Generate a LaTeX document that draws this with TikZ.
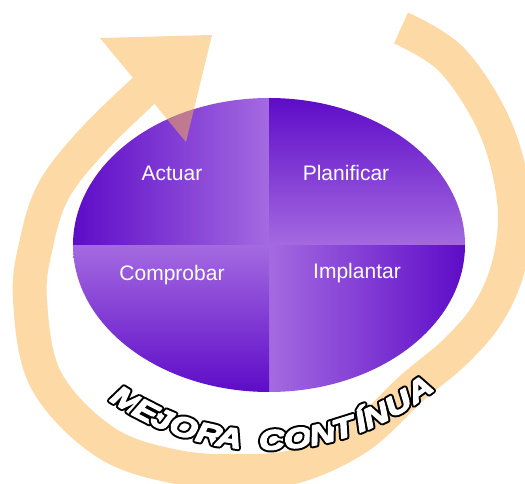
\documentclass[tikz,border=0pt]{standalone}
\usepackage{fontspec}
\setmainfont{Liberation Sans}
\newfontfamily\mejfont[FakeStretch=1.28]{Liberation Sans}
\usetikzlibrary{calc}
\definecolor{pdark}{RGB}{94,12,200}
\definecolor{plight}{RGB}{164,106,224}
\definecolor{peach}{RGB}{253,217,166}
\definecolor{peachT}{RGB}{251,179,77}
\newcommand\outlinedchar[1]{\rlap{\color{black}\special{pdf:literal direct 1 j 5.4 w 2 Tr}#1\special{pdf:literal direct 0 Tr}}\special{pdf:literal direct 1 G 1 j 1.4 w 2 Tr}#1\special{pdf:literal direct 0 Tr}}
\tikzset{
  qlabel/.style={text=white, font=\fontsize{21}{25}\selectfont, anchor=base, inner sep=0pt},
  lettr/.style={text=white, font=\mejfont\fontsize{28}{28}\selectfont\bfseries\itshape, inner sep=0pt, text height=0.72em, text depth=0pt},
  band/.style={draw=peach, line width=34pt},
  headtri/.style={fill=peach}
}
\begin{document}
\begin{tikzpicture}[x=1pt,y=1pt]
\useasboundingbox (0,0) rectangle (525,-484);
\clip (0,0) rectangle (525,-484);
% improvement cycle arrow
\draw[band] plot[smooth, tension=0.6] coordinates {(401,-28) (452,-60) (495,-127) (514,-200) (510,-260) (490,-310) (457,-350) (412,-388) (360,-436) (300,-465) (247,-471) (177,-467) (105,-442) (46,-380) (30,-300) (36,-245) (54,-190) (95,-138) (150,-85)};
\fill[headtri] (100,-38) -- (212,-35) -- (186,-142) -- cycle;
% ellipse quadrants
\coordinate (O) at (269,-245);
\shade[left color=pdark, right color=plight] (O) -- ++(-196,0) arc[start angle=180, end angle=90, x radius=196, y radius=147] -- cycle;
\shade[top color=pdark, bottom color=plight] (O) -- ++(0,147) arc[start angle=90, end angle=0, x radius=196, y radius=147] -- cycle;
\shade[left color=plight, right color=pdark] (O) -- ++(196,0) arc[start angle=0, end angle=-90, x radius=196, y radius=147] -- cycle;
\shade[top color=plight, bottom color=pdark] (O) -- ++(0,-147) arc[start angle=-90, end angle=-180, x radius=196, y radius=147] -- cycle;
% translucent arrow head over the ellipse
\begin{scope}
\clip (O) -- ++(-196,0) arc[start angle=180, end angle=90, x radius=196, y radius=147] -- cycle;
\fill[peachT, opacity=0.5] (100,-38) -- (212,-35) -- (186,-142) -- cycle;
\end{scope}
% labels
\node[qlabel] (actuar) at (172,-180) {Actuar};
\node[qlabel] (planificar) at (346,-180) {Planificar};
\node[qlabel] (comprobar) at (172,-280) {Comprobar};
\node[qlabel] (implantar) at (357,-278) {Implantar};
% curved title
\foreach \ch/\t [count=\i] in {M/122.1,E/117.3,J/113.3,O/108.2,R/102.4,A/97.9,C/88.5,O/82.8,N/77.3,T/72.5,Í/68.4,N/64.8,U/59.2,A/53.6}
  \node[lettr, rotate={90-\t}] (ltr\i) at ($(265,-180)+(-\t:266)$) {\outlinedchar{\ch}};
\end{tikzpicture}
\end{document}
